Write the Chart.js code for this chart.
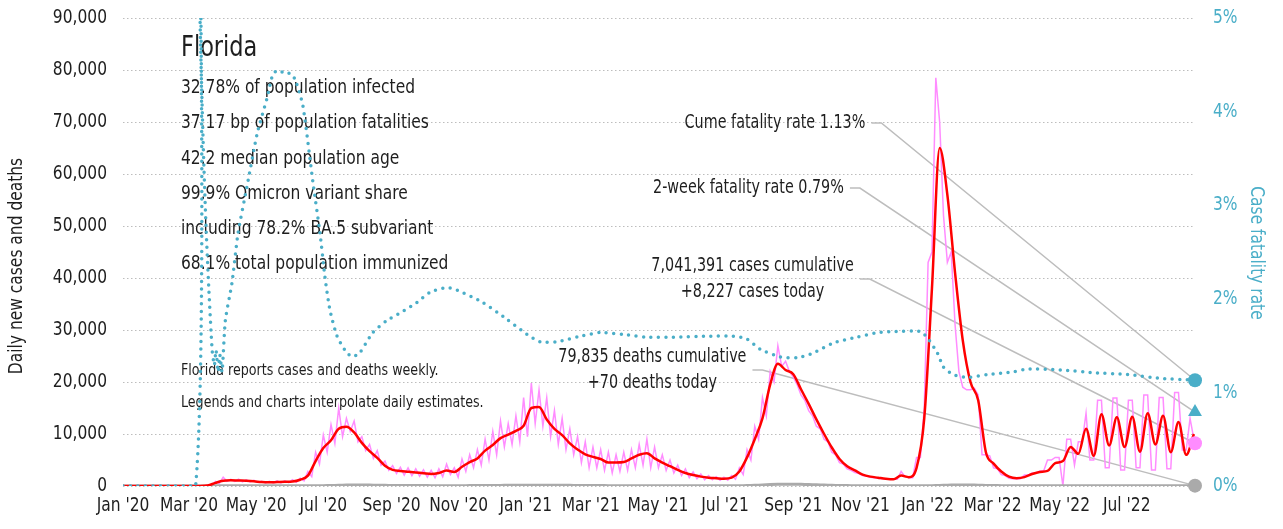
<!DOCTYPE html>
<html>
<head>
<meta charset="utf-8">
<script src="https://cdn.jsdelivr.net/npm/chart.js@4.4.1/dist/chart.umd.min.js"></script>
<style>
  html, body { margin: 0; padding: 0; background: #fff; }
</style>
</head>
<body>
<canvas id="chart" width="1283" height="529"></canvas>
<script>
// x = days since Jan 1 2020
const tickDays = [0, 60, 121, 182, 244, 305, 366, 425, 486, 547, 609, 670, 731, 790, 851, 912];
const tickLabels = ["Jan '20", "Mar '20", "May '20", "Jul '20", "Sep '20", "Nov '20",
  "Jan '21", "Mar '21", "May '21", "Jul '21", "Sep '21", "Nov '21",
  "Jan '22", "Mar '22", "May '22", "Jul '22"];
const lastDay = 974;

// one value per week (7-day average of new cases)
const avgCases = [
  0, 0, 0, 0, 0, 0, 0, 0, 0, 0, 0,
  100, 600, 1000, 1100, 1050, 1000, 900, 750, 700, 750, 800, 850, 1200,
  2000, 4800, 7300, 8800, 11000, 11400, 10300, 8300, 6700, 5400, 3900, 3100, 2900, 2750, 2600, 2450, 2300, 2500, 3000, 2700,
  3700, 4600, 5300, 6800, 7900, 9200, 9900, 10600, 11600, 15000, 15200, 12800, 11000, 9800, 8200, 7000, 6100, 5600, 5200, 4500,
  4500, 4600, 5300, 6000, 6300, 5300, 4500, 3800, 3100, 2500, 2100, 1800, 1600, 1500, 1400, 1600,
  2800, 5500, 9000, 13000, 19500, 23500, 22300, 21500, 18600, 15800, 12800, 10000, 7400, 5200, 3800, 3000, 2200, 1800, 1600, 1400,
  1300, 2000, 1700, 3500, 13000, 38000, 65000, 56000, 41000, 28000, 20000, 16500, 6500, 4300, 2800, 1800, 1500, 1700, 2300, 2700,
  2900, 4400, 4800, 7500, 6200, 11000, 5800, 13800, 7800, 13200, 7500, 13300, 6600, 14000, 8000, 13500, 6500, 12300, 6000, 10000
];

// two values per week (reported daily cases)
const dailyCases = [
  0, 0, 0, 0, 0, 0, 0, 0, 0, 0, 0, 0, 0, 0, 0, 0, 0, 0, 0, 0, 0, 0,
  200, 100, 900, 500, 1700, 900, 1300, 900, 1300, 800, 1200, 800, 1100, 700, 900, 600, 900, 600, 1000, 600,
  1000, 650, 1200, 700, 1500, 1000, 2800, 1800, 6500, 4200, 9800, 6500, 11800, 8200, 15000, 9500, 13000, 10500,
  12500, 8500, 9500, 6800, 8000, 5300, 6800, 4000, 4800, 3000, 3900, 2400, 3600, 2100, 3500, 2000, 3300, 1900,
  3100, 1700, 3000, 1600, 3300, 1800, 4200, 2200, 3500, 1700, 5200, 2800, 6000, 3500, 7000, 4000, 9000, 5000,
  10500, 6000, 12500, 7500, 12000, 8000, 13500, 8500, 17000, 9500, 19800, 12000, 18500, 11500, 17000, 9500,
  14500, 8000, 13000, 7000, 11000, 6000, 9500, 4500, 8500, 3500, 7500, 3500, 7000, 3000, 6500, 2500, 6000, 2800,
  6500, 3000, 7000, 3500, 8000, 4000, 9000, 3500, 7500, 3500, 6000, 3000, 5000, 2500, 4000, 2000, 3300, 1600,
  2700, 1400, 2300, 1200, 2000, 1200, 1800, 1100, 1700, 1100, 2000, 1300, 3500, 2200, 7000, 5000, 11500, 9000,
  17000, 13500, 22000, 20000, 27000, 23000, 24000, 22000, 21000, 19500, 17500, 16500, 14500, 13500, 11500, 11000,
  9000, 8500, 6500, 6000, 4500, 4200, 3300, 3000, 2600, 2400, 2000, 1900, 1700, 1600, 1500, 1400, 1400, 1300,
  1300, 1300, 2800, 1800, 1600, 1600, 5500, 5500, 15000, 43000, 45000, 78500, 70000, 52000, 43000, 45000,
  31000, 22000, 19000, 18500, 18500, 18800, 17500, 6000, 6000, 5800, 3500, 3300, 2200, 2000, 1500, 1400,
  1400, 1400, 2100, 2100, 2500, 2500, 2900, 2900, 5000, 5000, 5500, 5500, 0, 9000, 9000, 4000, 8500, 8500,
  14000, 5000, 5000, 16500, 16500, 3500, 3500, 16900, 16900, 3100, 3100, 16500, 16500, 3500, 3500, 17500,
  17500, 3100, 3100, 17000, 17000, 3300, 3300, 18000, 18000, 6900, 6900, 13000, 9000
];

// one value per week (7-day average of new deaths)
const deaths = [
  0, 0, 0, 0, 0, 0, 0, 0, 0, 0, 0,
  10, 30, 50, 50, 50, 45, 45, 40, 40, 40, 35, 35, 40,
  45, 50, 60, 90, 130, 180, 200, 190, 170, 150, 130, 110, 100, 90, 80, 75, 70, 65, 60, 60,
  65, 75, 85, 95, 105, 115, 125, 130, 140, 150, 160, 160, 150, 140, 125, 110, 100, 90, 80, 70,
  65, 60, 60, 60, 55, 55, 50, 45, 40, 35, 35, 30, 30, 30, 30, 35,
  50, 80, 130, 200, 280, 340, 360, 350, 320, 280, 230, 180, 140, 100, 80, 60, 50, 40, 35, 30,
  30, 30, 30, 35, 45, 70, 110, 160, 200, 210, 190, 160, 120, 90, 70, 55, 45, 35, 30, 30,
  30, 30, 35, 40, 40, 45, 45, 50, 50, 55, 55, 55, 55, 60, 60, 60, 60, 65, 65, 70
];

// case fatality rate, %
const cfrDays = [0, 66, 67, 70, 73, 75.5, 78, 81, 83, 84.5, 86.5, 88, 90, 93, 99, 104.5, 112.5, 122, 131, 136.5,
  142.5, 147, 152, 156.5, 163.5, 172.5, 179, 183.5, 188, 194.5, 203.5, 209, 215.5, 227, 240, 252, 267, 279,
  294.5, 306, 327, 349, 367, 379, 394.5, 415.5, 433.5, 454.5, 476, 500, 531, 554.5, 567, 579, 597, 612.5,
  627, 645.5, 667, 685.5, 700, 724.5, 731, 740, 745.5, 754.5, 767, 785.5, 809, 822, 852, 882, 913, 943, 974];
const cfrValues = [0, 0, 9, 5, 3.6, 2.75, 2.1, 1.45, 1.29, 1.45, 1.22, 1.4, 1.22, 1.77, 2.17, 2.7, 3.19, 3.77, 4.15, 4.41,
  4.44, 4.4, 4.41, 4.34, 4.06, 3.25, 2.7, 2.23, 1.88, 1.6, 1.42, 1.38, 1.43, 1.64, 1.77, 1.85, 1.96, 2.07,
  2.12, 2.08, 1.96, 1.78, 1.62, 1.54, 1.54, 1.6, 1.64, 1.62, 1.59, 1.59, 1.6, 1.6, 1.57, 1.46, 1.38, 1.37,
  1.42, 1.53, 1.59, 1.64, 1.65, 1.65, 1.58, 1.42, 1.27, 1.19, 1.16, 1.19, 1.22, 1.25, 1.24, 1.21, 1.19, 1.15, 1.13];

const cumeRate = 1.13;
const twoWeekRate = 0.79;
const casesToday = 8227;
const deathsToday = 70;

const stateName = 'Florida';
const statLines = [
  '32.78% of population infected',
  '37.17 bp of population fatalities',
  '42.2 median population age',
  '99.9% Omicron variant share',
  'including 78.2% BA.5 subvariant',
  '68.1% total population immunized'
];
const notes = [
  'Florida reports cases and deaths weekly.',
  'Legends and charts interpolate daily estimates.'
];

const FONT = '"DejaVu Sans Condensed", "DejaVu Sans", sans-serif';
const CONDENSE = 0.86;
const TEAL = '#4aaec8';
const PINK = '#ff8cff';
const GREY = '#aaaaaa';
const INK = '#1e1e1e';

// callouts placed in data coordinates (day, left-axis value)
const callouts = [
  { lines: ['Cume fatality rate 1.13%'], align: 'right', day: 674.5, value: 69800, axis: 'yRate', target: cumeRate },
  { lines: ['2-week fatality rate 0.79%'], align: 'right', day: 655, value: 57300, axis: 'yRate', target: twoWeekRate },
  { lines: ['7,041,391 cases cumulative', '+8,227 cases today'], align: 'center', day: 572, value: 42300, axis: 'y', target: casesToday },
  { lines: ['79,835 deaths cumulative', '+70 deaths today'], align: 'center', day: 481, value: 24800, axis: 'y', target: deathsToday }
];

function parSemaine(valeurs, pas) {
  return valeurs.map((v, i) => ({ x: i * pas, y: v }));
}

// texte resserré horizontalement (pas de police étroite installée)
function texte(ctx, t, x, y, size, opts = {}) {
  ctx.save();
  ctx.font = `${size}px ${FONT}`;
  ctx.fillStyle = opts.color || INK;
  ctx.textAlign = opts.align || 'left';
  ctx.textBaseline = 'middle';
  ctx.translate(x, y);
  if (opts.rotate) ctx.rotate(opts.rotate);
  ctx.scale(opts.condense || CONDENSE, 1);
  ctx.fillText(t, 0, 0);
  const w = ctx.measureText(t).width * (opts.condense || CONDENSE);
  ctx.restore();
  return w;
}

const textPlugin = {
  id: 'textes',
  beforeDatasetsDraw(chart) {
    const { ctx, chartArea, scales } = chart;
    const xs = scales.x;

    // tick labels
    scales.y.ticks.forEach(t => {
      texte(ctx, t.value.toLocaleString('en-US'), chartArea.left - 16, scales.y.getPixelForValue(t.value), 20, { align: 'right' });
    });
    scales.yRate.ticks.forEach(t => {
      texte(ctx, t.value + '%', chartArea.right + 18, scales.yRate.getPixelForValue(t.value), 20, { color: TEAL });
    });
    xs.ticks.forEach((t, i) => {
      texte(ctx, tickLabels[i], xs.getPixelForValue(t.value), chartArea.bottom + 20, 20, { align: 'center' });
    });

    // axis titles
    texte(ctx, 'Daily new cases and deaths', 17, 266, 20, { align: 'center', rotate: -Math.PI / 2 });
    texte(ctx, 'Case fatality rate', 1256, 253, 20, { align: 'center', rotate: Math.PI / 2, color: TEAL });

    // state block
    const left = chartArea.left + 58;
    texte(ctx, stateName, left, 48, 29);
    statLines.forEach((t, i) => texte(ctx, t, left, 88 + i * 35.2, 20));
    notes.forEach((t, i) => texte(ctx, t, left, 371 + i * 32, 16, { condense: 0.88 }));

    // callouts with connector lines
    ctx.save();
    ctx.strokeStyle = '#bdbdbd';
    ctx.lineWidth = 1.5;
    const xEnd = xs.getPixelForValue(lastDay);
    callouts.forEach(c => {
      const tx = xs.getPixelForValue(c.day);
      const ty = scales.y.getPixelForValue(c.value);
      const widths = c.lines.map((t, i) => texte(ctx, t, tx, ty + i * 26, 19, { align: c.align, condense: 0.84 }));
      const w = Math.max(...widths);
      const right = c.align === 'right' ? tx : tx + w / 2;
      const ym = ty + (c.lines.length - 1) * 13;
      ctx.beginPath();
      ctx.moveTo(right + 6, ym);
      ctx.lineTo(right + 16, ym);
      ctx.lineTo(xEnd, scales[c.axis].getPixelForValue(c.target));
      ctx.stroke();
    });
    ctx.restore();
  }
};

new Chart(document.getElementById('chart'), {
  type: 'line',
  data: {
    datasets: [
      {
        label: 'Cume rate', data: [{ x: lastDay, y: cumeRate }], yAxisID: 'yRate',
        showLine: false, pointRadius: 7, pointBackgroundColor: TEAL, pointBorderWidth: 0, clip: false, order: 0
      },
      {
        label: '2-week rate', data: [{ x: lastDay, y: twoWeekRate }], yAxisID: 'yRate',
        showLine: false, pointStyle: 'triangle', pointRadius: 8, pointBackgroundColor: TEAL, pointBorderWidth: 0, clip: false, order: 0
      },
      {
        label: 'Cases today', data: [{ x: lastDay, y: casesToday }], yAxisID: 'y',
        showLine: false, pointRadius: 7, pointBackgroundColor: PINK, pointBorderWidth: 0, clip: false, order: 0
      },
      {
        label: 'Deaths today', data: [{ x: lastDay, y: deathsToday }], yAxisID: 'y',
        showLine: false, pointRadius: 7, pointBackgroundColor: GREY, pointBorderWidth: 0, clip: false, order: 0
      },
      {
        label: 'Case fatality rate', data: cfrDays.map((d, i) => ({ x: d, y: cfrValues[i] })), yAxisID: 'yRate',
        borderColor: TEAL, borderWidth: 3.5, borderDash: [0, 7.5], borderCapStyle: 'round',
        pointRadius: 0, tension: 0.2, order: 1
      },
      {
        label: 'Cases (7-day avg)', data: parSemaine(avgCases, 7), yAxisID: 'y',
        borderColor: '#ff0000', borderWidth: 2.5, pointRadius: 0, cubicInterpolationMode: 'monotone', order: 2
      },
      {
        label: 'Deaths', data: parSemaine(deaths, 7), yAxisID: 'y',
        borderColor: GREY, borderWidth: 3, pointRadius: 0, tension: 0.3, order: 3
      },
      {
        label: 'Cases', data: parSemaine(dailyCases, 3.5), yAxisID: 'y',
        borderColor: PINK, borderWidth: 1.5, pointRadius: 0, tension: 0, order: 4
      }
    ]
  },
  options: {
    responsive: false,
    animation: false,
    devicePixelRatio: 1,
    layout: { padding: { top: 18, left: 0, right: 0, bottom: 0 } },
    plugins: { legend: { display: false }, tooltip: { enabled: false } },
    scales: {
      x: {
        type: 'linear', min: 0, max: lastDay,
        afterBuildTicks: s => { s.ticks = tickDays.map(v => ({ value: v })); },
        afterFit: s => { s.height = 43; },
        ticks: { display: false, autoSkip: false, maxRotation: 0 },
        grid: { display: false },
        border: { display: false }
      },
      y: {
        position: 'left', min: 0, max: 90000,
        afterFit: s => { s.width = 123; },
        ticks: { display: false, stepSize: 10000 },
        grid: { color: '#bdbdbd', lineWidth: 1, drawTicks: false },
        border: { display: false, dash: [1.5, 2.5] }
      },
      yRate: {
        position: 'right', min: 0, max: 5,
        afterFit: s => { s.width = 88; },
        ticks: { display: false, stepSize: 1 },
        grid: { display: false },
        border: { display: false }
      }
    }
  },
  plugins: [textPlugin]
});
</script>
</body>
</html>
